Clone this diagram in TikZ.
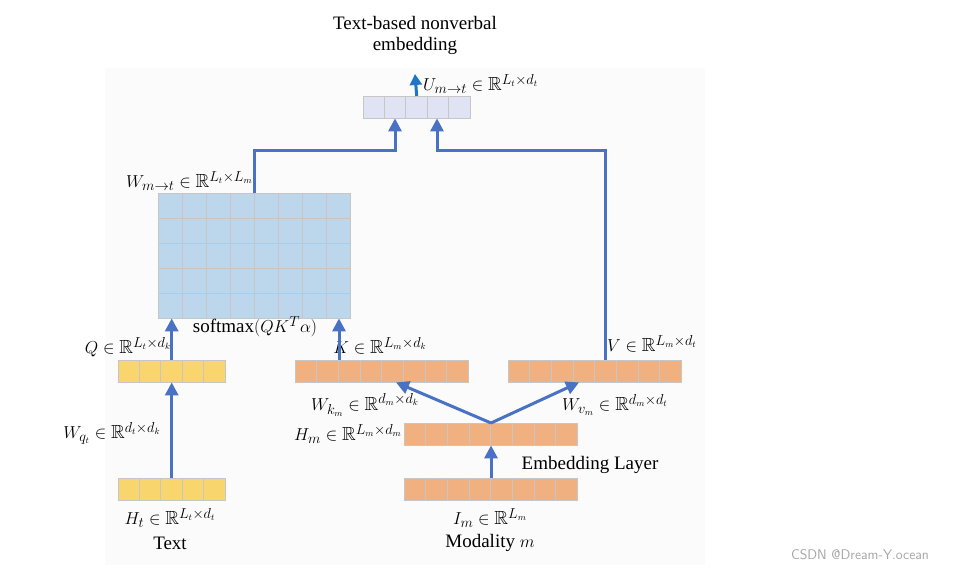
\documentclass[tikz,border=0pt]{standalone}
\usepackage{amsmath,amssymb}
\usepackage{fontspec}
\setmainfont{Liberation Serif}
\usepackage{tikz}
\usetikzlibrary{positioning,arrows.meta,calc}

\definecolor{flowblue}{HTML}{4A72C4}
\definecolor{outblue}{HTML}{1F77C4}
\definecolor{ucell}{HTML}{DFE3F3}
\definecolor{wcell}{HTML}{BCD6EC}
\definecolor{qcell}{HTML}{F9D56E}
\definecolor{kcell}{HTML}{F0B080}

\tikzset{
  cellline/.style={draw=gray!45, line width=1pt},
  flow/.style={draw=flowblue, line width=3pt, -{Triangle[length=13pt,width=13pt]}},
  lbl/.style={font=\fontsize{19}{21}\selectfont, inner sep=1pt},
}

% one row of cells, named as a node
\newcommand\cellrow[6]{%
  \foreach \i in {1,...,#4}
    \draw[cellline, fill=#6] ({#2+(\i-1)*#5},#3) rectangle ++(#5,22);
  \node[minimum width={#4*#5 pt}, minimum height=22pt, inner sep=0pt, anchor=north west] (#1) at (#2,#3) {};
}

\begin{document}
\begin{tikzpicture}[x=1pt, y=-1pt]
    \useasboundingbox (0,0) rectangle (961,573);
    \fill[gray!3] (105,68) rectangle (705,565);

    % output row
    \cellrow{U}{363}{96}{5}{21.4}{ucell}
    \node[lbl, align=center] (title) at (415,35) {Text-based nonverbal\\embedding};
    \coordinate (top) at (415,74);
    \draw[draw=outblue, line width=3pt, -{Triangle[length=11pt,width=12pt]}] (U.north) -- (top);
    \node[lbl, anchor=west] (ulab) at (422,84) {$U_{m\rightarrow t}\in\mathbb{R}^{L_t\times d_t}$};

    % attention matrix
    \foreach \r in {0,...,4}
      \foreach \c in {0,...,7}
        \draw[cellline, fill=wcell] ({158+\c*24},{193+\r*25}) rectangle ++(24,25);
    \node[minimum width=192pt, minimum height=125pt, inner sep=0pt, anchor=north west] (W) at (158,193) {};
    \node[lbl, anchor=south west] (wlab) at (125,192) {$W_{m\rightarrow t}\in\mathbb{R}^{L_t\times L_m}$};

    % query side
    \cellrow{Q}{118}{360}{5}{21.4}{qcell}
    \cellrow{Ht}{118}{478}{5}{21.4}{qcell}
    \node[lbl, anchor=south] (qlab) at (128,358) {$Q\in\mathbb{R}^{L_t\times d_k}$};
    \node[lbl] (wqlab) at (112,433) {$W_{q_t}\in\mathbb{R}^{d_t\times d_k}$};
    \node[lbl] (htlab) at (170,518) {$H_t\in\mathbb{R}^{L_t\times d_t}$};
    \node[lbl] (text) at (170,543) {Text};

    % key / value side
    \cellrow{K}{295}{360}{8}{21.7}{kcell}
    \cellrow{V}{508}{360}{8}{21.7}{kcell}
    \cellrow{Hm}{404}{423}{8}{21.7}{kcell}
    \cellrow{Im}{404}{478}{8}{21.7}{kcell}
    \node[lbl] (soft) at (255,327) {softmax$(QK^{T}\alpha)$};
    \node[lbl] (klab) at (380,346) {$K\in\mathbb{R}^{L_m\times d_k}$};
    \node[lbl] (vlab) at (652,344) {$V\in\mathbb{R}^{L_m\times d_t}$};
    \node[lbl] (wklab) at (365,405) {$W_{k_m}\in\mathbb{R}^{d_m\times d_k}$};
    \node[lbl] (wvlab) at (615,405) {$W_{v_m}\in\mathbb{R}^{d_m\times d_t}$};
    \node[lbl, anchor=east] (hmlab) at (403,434) {$H_m\in\mathbb{R}^{L_m\times d_m}$};
    \node[lbl] (emb) at (590,465) {Embedding Layer};
    \node[lbl] (imlab) at (490,518) {$I_m\in\mathbb{R}^{L_m}$};
    \node[lbl] (modal) at (490,543) {Modality $m$};

    % connectors
    \coordinate (jw) at (395,150);
    \coordinate (jv) at (437,150);
    \coordinate (kup) at ($(K.north west)+(44,0)$);
    \coordinate (vup) at ($(V.north west)+(97,0)$);
    \coordinate (kin) at ($(K.south west)+(101,0)$);
    \coordinate (vin) at ($(V.south west)+(71,0)$);
    \draw[flow] (Ht.north) -- (Q.south);
    \draw[flow] (Q.north) -- (Q.north |- W.south);
    \draw[flow] (kup) -- (kup |- W.south);
    \draw[flow] (W.north) |- (jw) -- (jw |- U.south);
    \draw[flow] (vup) |- (jv) -- (jv |- U.south);
    \draw[flow] (Im.north) -- (Hm.south);
    \draw[flow] (Hm.north) -- (kin);
    \draw[flow] (Hm.north) -- (vin);

    \node[font=\fontfamily{lmss}\fontsize{14}{16}\selectfont, text=gray!70] (mark) at (860,555) {CSDN @Dream-Y.ocean};
  \end{tikzpicture}
\end{document}
